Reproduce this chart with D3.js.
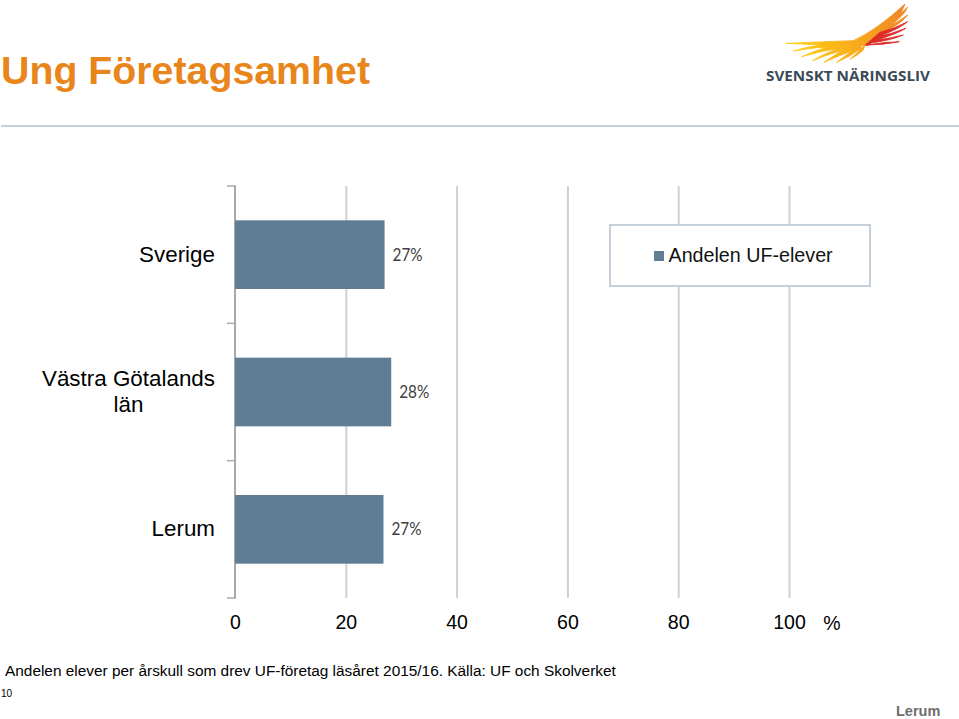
<!DOCTYPE html>
<html lang="en">
<head>
    <meta charset="UTF-8">
    <title>Ung Företagsamhet</title>
    <script src="https://d3js.org/d3.v7.min.js"></script>
    <style>
        html, body { margin: 0; padding: 0; background: #fff; overflow: hidden; }
        text { font-family: "Liberation Sans", Arial, sans-serif; }
    </style>
</head>
<body>
<script>
    var categories = ["Sverige", "Västra Götalands län", "Lerum"]
    var values = [27, 28.2, 26.8]
    var valueLabels = ["27%", "28%", "27%"]
    var xTicks = [0, 20, 40, 60, 80, 100]

    var width = 959
    var height = 719
    var barColor = "#607d96"
    var gridColor = "#d0d0d0"

    var svg = d3.select("body").append("svg")
        .attr("width", width)
        .attr("height", height)

    var x = d3.scaleLinear().domain([0, 100]).range([235, 789])
    var y = d3.scaleBand().domain(categories).range([186, 598])
        .paddingInner(0.5)
        .paddingOuter(0.25)

    // header
    svg.append("text")
        .attr("x", 1).attr("y", 84)
        .attr("font-size", 39.3)
        .attr("font-weight", "bold")
        .attr("fill", "#e8861c")
        .text("Ung Företagsamhet")

    svg.append("rect")
        .attr("x", 1).attr("y", 125)
        .attr("width", 958).attr("height", 2)
        .attr("fill", "#c5d0da")

    // logo, paths are drawn in the 3x zoom coordinates
    var defs = svg.append("defs")
    var grad = defs.append("linearGradient")
        .attr("id", "wing")
        .attr("gradientUnits", "userSpaceOnUse")
        .attr("x1", 137).attr("y1", 150)
        .attr("x2", 500).attr("y2", 20)
    grad.append("stop").attr("offset", "0").attr("stop-color", "#fcd20f")
    grad.append("stop").attr("offset", "0.45").attr("stop-color", "#fab01a")
    grad.append("stop").attr("offset", "1").attr("stop-color", "#ec8526")

    var logo = svg.append("g").attr("transform", "translate(740,0) scale(0.3333)")
    var wingPaths = [
        "M137,130 Q250,125 340,122 Q410,90 495,12 Q480,55 440,85 L385,135 L350,140 Q250,135 137,130Z",
        "M160,153 Q220,135 290,130 L300,140 Q230,140 160,153Z",
        "M185,170 Q250,140 310,132 L315,143 Q250,150 185,170Z",
        "M218,182 Q270,150 330,135 L335,145 Q275,158 218,182Z",
        "M252,187 Q295,155 345,135 L350,148 Q300,165 252,187Z",
        "M290,187 Q325,160 360,135 L365,145 Q330,170 290,187Z",
        "M330,178 Q350,160 375,135 L370,150 Q355,165 330,178Z",
        "M440,70 Q475,50 503,22 Q490,50 445,80Z",
        "M430,85 Q470,70 503,45 Q485,70 435,95Z"
    ]
    logo.selectAll("path.wing")
        .data(wingPaths)
        .enter()
        .append("path")
        .attr("class", "wing")
        .attr("d", function (d) { return d })
        .attr("fill", "url(#wing)")
        .attr("stroke", "url(#wing)")
        .attr("stroke-width", 2.5)
    var redPaths = [
        "M420,97 Q465,85 503,65 Q480,85 420,108Z",
        "M405,112 Q455,102 498,85 Q470,102 405,122Z",
        "M395,122 Q445,117 490,105 Q450,122 385,130Z",
        "M378,135 L440,127 Q460,127 478,125 Q430,135 378,135Z",
        "M420,97 L425,105 L385,135 L376,135Z"
    ]
    logo.selectAll("path.red")
        .data(redPaths)
        .enter()
        .append("path")
        .attr("class", "red")
        .attr("d", function (d) { return d })
        .attr("fill", "#dd2b27")
        .attr("stroke", "#dd2b27")
        .attr("stroke-width", 2.5)
    svg.append("text")
        .attr("x", 766).attr("y", 81)
        .style("font-family", "'Open Sans'")
        .attr("font-size", 14.5)
        .attr("font-weight", "bold")
        .attr("fill", "#3b4a58")
        .attr("textLength", 164)
        .attr("lengthAdjust", "spacingAndGlyphs")
        .text("SVENSKT NÄRINGSLIV")

    // x axis + gridlines
    var xAxis = d3.axisBottom(x)
        .tickValues(xTicks)
        .tickSize(0)
        .tickPadding(0)
    var xg = svg.append("g")
        .attr("transform", "translate(0,598)")
        .call(xAxis)
    xg.select(".domain").remove()
    xg.selectAll("text")
        .attr("y", 17)
        .attr("dy", "0.71em")
        .attr("font-size", 19.5)
        .attr("fill", "#000")
    xg.selectAll(".tick").filter(function (d) { return d > 0 })
        .append("line")
        .attr("y1", -412)
        .attr("y2", 0)
        .attr("stroke", gridColor)
        .attr("stroke-width", 2)

    svg.append("text")
        .attr("x", 832).attr("y", 630)
        .attr("text-anchor", "middle")
        .attr("font-size", 19.5)
        .text("%")

    // y axis line and ticks at the band edges
    var yEdges = categories.map(function (d) { return y(d) - y.step() * y.paddingInner() / 2 })
    yEdges.push(598)
    svg.selectAll("line.ytick")
        .data(yEdges)
        .enter()
        .append("line")
        .attr("class", "ytick")
        .attr("x1", 227).attr("x2", x(0) + 1)
        .attr("y1", function (d) { return d })
        .attr("y2", function (d) { return d })
        .attr("stroke", "#a8a8a8")
        .attr("stroke-width", 1.5)
    svg.append("line")
        .attr("x1", x(0)).attr("x2", x(0))
        .attr("y1", 186).attr("y2", 598)
        .attr("stroke", "#a8a8a8")
        .attr("stroke-width", 2)

    // bars
    svg.selectAll("rect.bar")
        .data(categories)
        .enter()
        .append("rect")
        .attr("class", "bar")
        .attr("x", x(0))
        .attr("y", function (d) { return y(d) })
        .attr("width", function (d, i) { return x(values[i]) - x(0) })
        .attr("height", y.bandwidth())
        .attr("fill", barColor)

    svg.selectAll("text.value")
        .data(categories)
        .enter()
        .append("text")
        .attr("class", "value")
        .attr("x", function (d, i) { return x(values[i]) + 8 })
        .attr("y", function (d) { return y(d) + y.bandwidth() / 2 + 6 })
        .attr("font-size", 17)
        .attr("fill", "#404040")
        .attr("textLength", 30)
        .attr("lengthAdjust", "spacingAndGlyphs")
        .style("font-family", "Lato")
        .text(function (d, i) { return valueLabels[i] })

    // category labels, the long one wraps
    svg.selectAll("text.cat")
        .data(categories)
        .enter()
        .append("text")
        .attr("class", "cat")
        .attr("font-size", 22.4)
        .attr("fill", "#000")
        .each(function (d) {
            var t = d3.select(this)
            var cy = y(d) + y.bandwidth() / 2
            if (d.length > 15) {
                t.attr("text-anchor", "middle")
                t.append("tspan").attr("x", 128.5).attr("y", cy - 6).text("Västra Götalands")
                t.append("tspan").attr("x", 128.5).attr("y", cy + 20).text("län")
            } else {
                t.attr("text-anchor", "end").attr("x", 215).attr("y", cy + 7).text(d)
            }
        })

    // legend
    svg.append("rect")
        .attr("x", 610).attr("y", 225)
        .attr("width", 260).attr("height", 61)
        .attr("fill", "#fff")
        .attr("stroke", "#c5d0da")
        .attr("stroke-width", 2)
    svg.append("rect")
        .attr("x", 654).attr("y", 251)
        .attr("width", 10).attr("height", 10)
        .attr("fill", barColor)
    svg.append("text")
        .attr("x", 668.5).attr("y", 262)
        .attr("font-size", 19.7)
        .attr("fill", "#111")
        .text("Andelen UF-elever")

    // footer
    svg.append("text")
        .attr("x", 5).attr("y", 676)
        .attr("font-size", 15.4)
        .text("Andelen elever per årskull som drev UF-företag läsåret 2015/16. Källa: UF och Skolverket")
    svg.append("text")
        .attr("x", 1).attr("y", 697)
        .attr("font-size", 10)
        .text("10")
    svg.append("text")
        .attr("x", 896).attr("y", 715.5)
        .attr("font-size", 14.5)
        .attr("font-weight", "bold")
        .attr("fill", "#6d6e71")
        .text("Lerum")
</script>
</body>
</html>
